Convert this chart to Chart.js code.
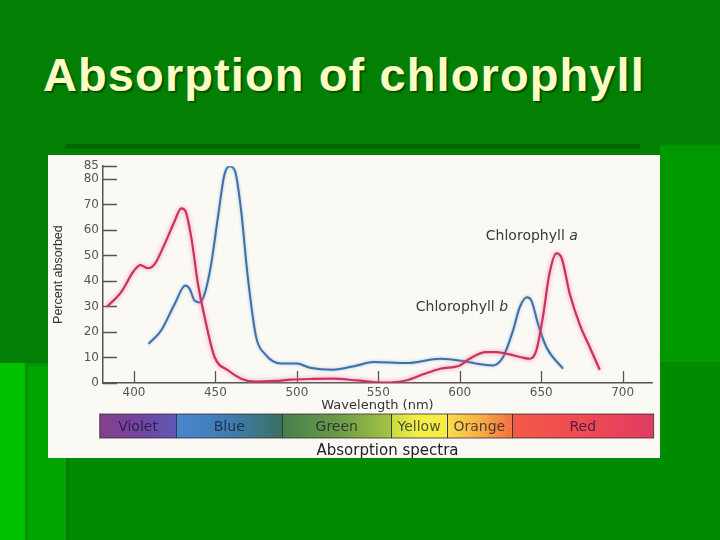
<!DOCTYPE html>
<html>
<head>
<meta charset="utf-8">
<script src="https://cdn.jsdelivr.net/npm/chart.js@4.4.1/dist/chart.umd.min.js"></script>
<style>
  html, body { margin: 0; padding: 0; }
  body {
    width: 720px; height: 540px; position: relative; overflow: hidden;
    background: #038003; font-family: "Liberation Sans", Arial, sans-serif;
  }
  .deco { position: absolute; }
  h1 {
    position: absolute; left: 43px; top: 51px; margin: 0;
    font-size: 47px; line-height: 1; font-weight: bold; letter-spacing: 1.1px;
    color: #fdfcc2; text-shadow: 2px 2px 1px rgba(0, 60, 0, 0.7);
  }
  .panel {
    position: absolute; left: 48px; top: 155px; width: 612px; height: 303px;
    background: #fbf9f3;
  }
  .panel canvas { display: block; }
</style>
</head>
<body>
<div class="deco" style="left:0;top:363px;width:25px;height:177px;background:#00c200"></div>
<div class="deco" style="left:25px;top:363px;width:40px;height:177px;background:#00a600;border-left:3px solid #009200;border-top:3px solid #009200"></div>
<div class="deco" style="left:66px;top:458px;width:654px;height:82px;background:#008c00;border-left:3px solid #007c00"></div>
<div class="deco" style="left:660px;top:145px;width:60px;height:217px;background:#009a00"></div>
<div class="deco" style="left:660px;top:362px;width:60px;height:100px;background:#008c00"></div>
<div class="deco" style="left:65px;top:144px;width:575px;height:5px;background:#006800"></div>

<h1>Absorption of chlorophyll</h1>

<div class="panel">
  <canvas id="spectrum" width="612" height="303"></canvas>
</div>

<script>
// Chlorophyll a (pink)
const waveA = [383.6, 392, 400, 404, 408.6, 412.7, 418.8, 425, 429, 431.5, 435.2, 439.3, 443.4, 449.5,
  457.7, 465.8, 474, 487, 496, 510, 522, 537, 553, 567, 577.5, 588, 600, 606, 616, 622.5, 630.7,
  637, 643, 647, 651, 655, 659.3, 662.4, 667.5, 673.6, 679.8, 685.9];
const absA = [30, 35.5, 44, 46.2, 45, 46.6, 54.4, 63.5, 68.5, 67.5, 57, 38.8, 25.8, 10.2,
  5, 1.7, 0.5, 0.8, 1.3, 1.6, 1.7, 1, 0.2, 1, 3.4, 5.6, 6.9, 9.5, 12.1, 12.1, 11.2,
  10.2, 9.5, 12.8, 25.8, 42.7, 50.8, 49.2, 35, 23, 14, 5.2];

// Chlorophyll b (blue)
const waveB = [409, 416.7, 425, 431.5, 434.2, 437.2, 440.3, 443.4, 447.4, 451.5, 455.6, 458.7, 462.1,
  465.8, 469.9, 475, 480.2, 490.4, 500, 508, 522, 537, 547, 567, 588, 602, 610, 620.4, 626.6,
  632.7, 636.8, 641.3, 644, 648, 653.2, 663.4];
const absB = [15.4, 20.6, 31, 38.2, 36.9, 32.3, 31.6, 35, 46.6, 64.8, 81.8, 85, 83,
  67.5, 41.4, 18, 11.5, 7.6, 7.6, 6, 5.2, 6.9, 8.2, 7.8, 9.5, 8.6, 7.6, 6.9, 10.2,
  20.6, 29.7, 33.6, 32.3, 23.2, 14, 5.6];

const yTicks = [0, 10, 20, 30, 40, 50, 60, 70, 80, 85];
const xTicks = [400, 450, 500, 550, 600, 650, 700];

// spectrum strip under the axis
const bandNames = ['Violet', 'Blue', 'Green', 'Yellow', 'Orange', 'Red'];
const bandEdges = [379, 426, 491, 558, 592, 632, 719];

// curve captions: text, wavelength, percent
const captionText = ['Chlorophyll ', 'Chlorophyll '];
const captionItalic = ['a', 'b'];
const captionX = [616, 573];
const captionY = [57.3, 29.6];

const bandColors = [
  ['#84418c', '#7444a0', '#5e58b4'],
  ['#4a86cc', '#3f7cb2', '#3a7062'],
  ['#457f4c', '#6a9a48', '#a6c444'],
  ['#c8dc3c', '#f4f048', '#f8ec40'],
  ['#f8e04c', '#f8b044', '#f47040'],
  ['#f25a48', '#f04a52', '#e03c62']
];

const spectrumPlugin = {
  id: 'spectrum',
  beforeDatasetsDraw(chart) {
    const {ctx, chartArea, scales: {x, y}} = chart;
    ctx.save();
    ctx.strokeStyle = '#555';
    ctx.lineWidth = 1.3;
    ctx.beginPath();
    yTicks.forEach(v => {
      const py = Math.round(y.getPixelForValue(v)) + 0.5;
      ctx.moveTo(chartArea.left, py);
      ctx.lineTo(chartArea.left + 14, py);
    });
    xTicks.forEach(v => {
      const px = Math.round(x.getPixelForValue(v)) + 0.5;
      ctx.moveTo(px, chartArea.bottom);
      ctx.lineTo(px, chartArea.bottom - 12);
    });
    ctx.stroke();
    ctx.restore();
  },
  beforeDatasetDraw(chart, args) {
    const ctx = chart.ctx;
    ctx.save();
    ctx.shadowColor = args.index === 0 ? 'rgba(240, 110, 160, 0.8)' : 'rgba(120, 170, 220, 0.7)';
    ctx.shadowBlur = args.index === 0 ? 4 : 3;
  },
  afterDatasetDraw(chart) {
    chart.ctx.restore();
  },
  afterDraw(chart) {
    const {ctx, chartArea, scales: {x, y}} = chart;
    ctx.save();

    // captions
    ctx.fillStyle = '#3a3a3a';
    ctx.textBaseline = 'middle';
    ctx.textAlign = 'left';
    captionText.forEach((t, i) => {
      const px = x.getPixelForValue(captionX[i]);
      const py = y.getPixelForValue(captionY[i]);
      ctx.font = '14px "DejaVu Sans"';
      ctx.fillText(t, px, py);
      const w = ctx.measureText(t).width;
      ctx.font = 'italic 14px "DejaVu Sans"';
      ctx.fillText(captionItalic[i], px + w, py);
    });

    // colour strip
    const top = chartArea.bottom + 31;
    const h = 24;
    for (let i = 0; i < bandNames.length; i++) {
      const x0 = x.getPixelForValue(bandEdges[i]);
      const x1 = x.getPixelForValue(bandEdges[i + 1]);
      const g = ctx.createLinearGradient(x0, 0, x1, 0);
      const stops = bandColors[i];
      stops.forEach((c, k) => g.addColorStop(k / (stops.length - 1), c));
      ctx.fillStyle = g;
      ctx.fillRect(x0, top, x1 - x0, h);
    }
    ctx.strokeStyle = '#3a3a3a';
    ctx.lineWidth = 1;
    ctx.beginPath();
    for (let i = 1; i < bandEdges.length - 1; i++) {
      const px = Math.round(x.getPixelForValue(bandEdges[i])) + 0.5;
      ctx.moveTo(px, top);
      ctx.lineTo(px, top + h);
    }
    ctx.stroke();
    ctx.strokeStyle = 'rgba(60, 40, 50, 0.8)';
    const left = x.getPixelForValue(bandEdges[0]);
    const right = x.getPixelForValue(bandEdges[bandEdges.length - 1]);
    ctx.strokeRect(left, top, right - left, h);

    ctx.font = '14px "DejaVu Sans"';
    ctx.textAlign = 'center';
    ctx.fillStyle = 'rgba(20, 20, 50, 0.74)';
    bandNames.forEach((n, i) => {
      const cx = (x.getPixelForValue(bandEdges[i]) + x.getPixelForValue(bandEdges[i + 1])) / 2;
      ctx.fillText(n, cx, top + h / 2 + 1);
    });

    ctx.font = '15px "DejaVu Sans"';
    ctx.fillStyle = '#222';
    ctx.fillText('Absorption spectra', (chartArea.left + chartArea.right) / 2 + 10, top + h + 13);
    ctx.restore();
  }
};

const toPoints = (xs, ys) => xs.map((v, i) => ({x: v, y: ys[i]}));

new Chart(document.getElementById('spectrum'), {
  type: 'scatter',
  data: {
    datasets: [{
      label: 'Chlorophyll a',
      data: toPoints(waveA, absA),
      borderColor: '#c8335f',
      borderWidth: 2.2
    }, {
      label: 'Chlorophyll b',
      data: toPoints(waveB, absB),
      borderColor: '#3d70a4',
      borderWidth: 2
    }]
  },
  options: {
    responsive: false,
    animation: false,
    showLine: true,
    devicePixelRatio: 1,
    layout: { padding: { top: 10, right: 8, left: 0, bottom: 0 } },
    elements: {
      point: { radius: 0, hoverRadius: 0 },
      line: { tension: 0.4, cubicInterpolationMode: 'monotone' }
    },
    plugins: {
      legend: { display: false },
      tooltip: { enabled: false }
    },
    scales: {
      x: {
        type: 'linear',
        min: 381,
        max: 718,
        afterBuildTicks: scale => { scale.ticks = xTicks.map(v => ({value: v})); },
        afterFit: scale => { scale.height = 75; },
        grid: { display: false, drawTicks: false },
        border: { display: true, color: '#555', width: 1.5 },
        ticks: {
          padding: 3,
          color: '#555',
          maxRotation: 0,
          font: { family: '"DejaVu Sans"', size: 12 }
        },
        title: {
          display: true,
          text: 'Wavelength (nm)',
          color: '#333',
          padding: { top: 0, bottom: 45 },
          font: { family: '"DejaVu Sans"', size: 13 }
        }
      },
      y: {
        min: 0,
        max: 85,
        afterBuildTicks: scale => { scale.ticks = yTicks.map(v => ({value: v})); },
        afterFit: scale => { scale.width = 55; },
        grid: { display: false, drawTicks: false },
        border: { display: true, color: '#555', width: 1.5 },
        ticks: {
          padding: 4,
          color: '#555',
          font: { family: '"DejaVu Sans"', size: 12 }
        },
        title: {
          display: true,
          text: 'Percent absorbed',
          color: '#333',
          padding: { top: 3, bottom: 0 },
          font: { family: '"Liberation Sans"', size: 12.5 }
        }
      }
    }
  },
  plugins: [spectrumPlugin]
});
</script>
</body>
</html>
